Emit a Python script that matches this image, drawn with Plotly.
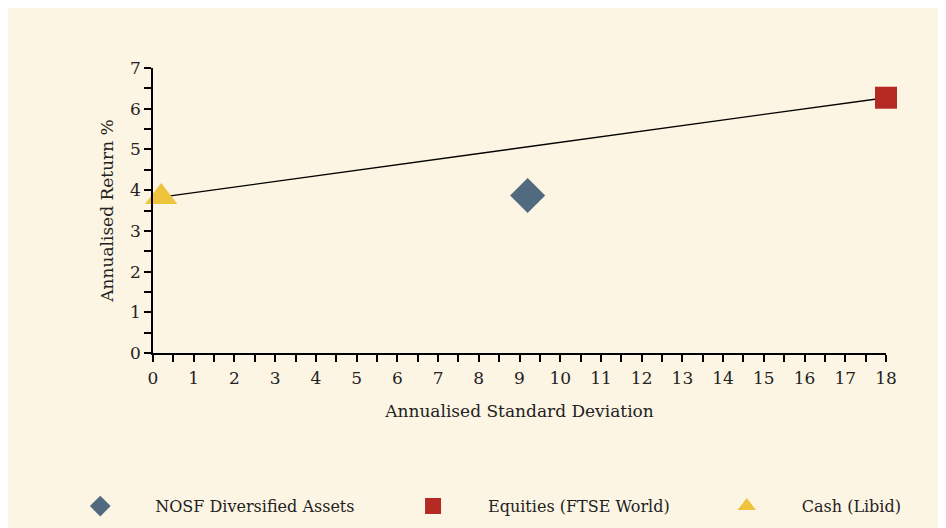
import plotly.graph_objects as go

series_names = ["NOSF Diversified Assets", "Equities (FTSE World)", "Cash (Libid)"]
std_dev = [9.2, 18.0, 0.2]
annual_return = [3.87, 6.27, 3.83]
symbols = ["diamond", "square", "triangle-up"]
colors = ["#526a80", "#b52a23", "#f0c33c"]
sizes = [27, 22, 28]
legend_ids = ["legend", "legend2", "legend3"]

# efficient frontier line: Cash -> Equities
line_x = [std_dev[2], std_dev[1]]
line_y = [annual_return[2], annual_return[1]]

x_ticks = list(range(0, 19))
y_ticks = list(range(0, 8))

FONT = "DejaVu Serif"
BG = "#fdf5e3"

fig = go.Figure()
fig.add_trace(go.Scatter(x=line_x, y=line_y, mode="lines",
                         line=dict(color="black", width=1.3),
                         showlegend=False, hoverinfo="skip", cliponaxis=False))
for name, x, y, sym, c, s, lg in zip(series_names, std_dev, annual_return, symbols, colors, sizes, legend_ids):
    fig.add_trace(go.Scatter(x=[x], y=[y], mode="markers", name=name, cliponaxis=False,
                             legend=lg,
                             marker=dict(symbol=sym, color=c, size=s, line=dict(width=0))))

axis_common = dict(showline=True, linecolor="black", linewidth=1.5,
                   ticks="outside", ticklen=7, tickcolor="black", tickwidth=1.5,
                   showgrid=False, zeroline=False, automargin=False,
                   tickfont=dict(family=FONT, size=17, color="#222"),
                   minor=dict(ticks="outside", ticklen=7, tickcolor="black",
                              tickwidth=1.5, dtick=0.5, showgrid=False))

fig.update_xaxes(range=[0, 18], tickvals=x_ticks, ticktext=[str(v) for v in x_ticks],
                 ticklabelstandoff=2,
                 title=dict(text="Annualised Standard Deviation",
                            font=dict(family=FONT, size=17, color="#222"), standoff=18),
                 **axis_common)
fig.update_yaxes(range=[0, 7], tickvals=y_ticks, ticktext=[str(v) for v in y_ticks],
                 title=dict(text="Annualised Return %",
                            font=dict(family=FONT, size=17, color="#222"), standoff=12),
                 **axis_common)

legend_style = dict(orientation="h", y=0.042, yref="container", xanchor="left", yanchor="middle",
                    bgcolor="rgba(0,0,0,0)", itemwidth=100, itemsizing="trace",
                    font=dict(family=FONT, size=16, color="#222"))

fig.update_layout(
    width=938, height=520,
    margin=dict(l=145, r=60, t=60, b=175, autoexpand=False),
    paper_bgcolor=BG, plot_bgcolor=BG,
    font=dict(family=FONT, size=17, color="#222"),
    legend=dict(x=-0.147, **legend_style),
    legend2=dict(x=0.307, **legend_style),
    legend3=dict(x=0.735, **legend_style),
)

fig.write_html("out.html")
